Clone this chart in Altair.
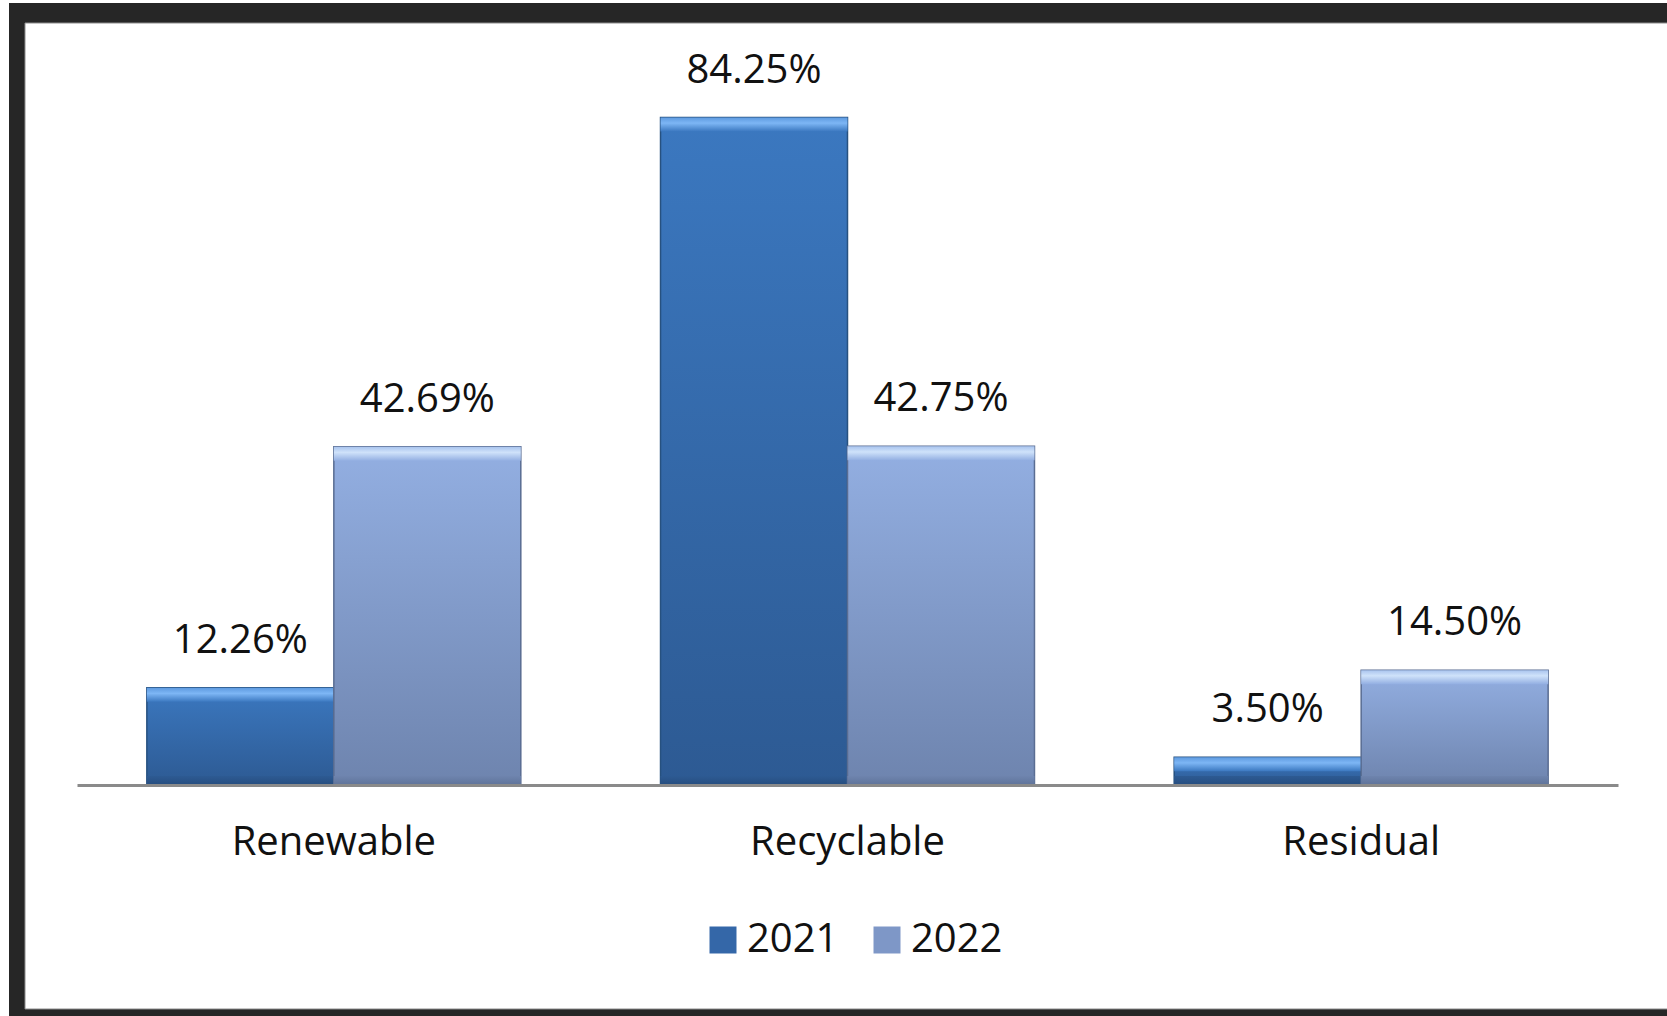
import altair as alt
import pandas as pd

categories = ["Renewable", "Recyclable", "Residual"]
years = ["2021", "2022"]
values_2021 = [12.26, 84.25, 3.50]
values_2022 = [42.69, 42.75, 14.50]

rows = []
for i, c in enumerate(categories):
    rows.append({"category": c, "year": years[0], "value": values_2021[i]})
    rows.append({"category": c, "year": years[1], "value": values_2022[i]})
df = pd.DataFrame(rows)

FONT = "Open Sans"
FS = 40

x_enc = alt.X("category:N", sort=categories,
              scale=alt.Scale(paddingInner=0.272, paddingOuter=0.136),
              axis=alt.Axis(title=None, labelAngle=0, ticks=False, tickSize=0,
                            domainColor="#8a8a8a", domainWidth=3, zindex=2,
                            labelFontSize=FS, labelFont=FONT, labelColor="#111111",
                            labelLimit=400,
                            labelBaseline="middle", labelPadding=57))
xo_enc = alt.XOffset("year:N", sort=years, scale=alt.Scale(paddingInner=0, paddingOuter=0))
y_scale = alt.Scale(domain=[0, 90])
y_enc = alt.Y("value:Q", scale=y_scale, axis=None)

base = alt.Chart(df)

frame_outer = alt.Chart(alt.Data(values=[{"a": 1}])).mark_rect(color="#262626").encode(
    x=alt.value(-68), x2=alt.value(1600), y=alt.value(-69), y2=alt.value(960))
frame_inner = alt.Chart(alt.Data(values=[{"a": 1}])).mark_rect(
    color="white", stroke="#8c8c8c", strokeWidth=1).encode(
    x=alt.value(-52), x2=alt.value(1600), y=alt.value(-49), y2=alt.value(937))

legend_bars = base.mark_bar().encode(
    x=x_enc, xOffset=xo_enc, y=y_enc,
    color=alt.Color("year:N", sort=years,
                    scale=alt.Scale(domain=years, range=["#3467A8", "#7E97C7"]),
                    legend=alt.Legend(title=None, orient="none", legendX=626, legendY=848,
                                      direction="horizontal", symbolType="square",
                                      symbolSize=729, symbolStrokeWidth=0, zindex=2,
                                      labelFontSize=FS, labelFont=FONT, labelColor="#111111",
                                      labelOffset=4, columnPadding=28)))

grad_2021 = alt.Gradient(gradient="linear", x1=0, y1=0, x2=0, y2=1,
                         stops=[alt.GradientStop(color="#3B78C0", offset=0),
                                alt.GradientStop(color="#2D5A93", offset=1)])
grad_2022 = alt.Gradient(gradient="linear", x1=0, y1=0, x2=0, y2=1,
                         stops=[alt.GradientStop(color="#93AFE2", offset=0),
                                alt.GradientStop(color="#6E84AE", offset=1)])
hi_2021 = alt.Gradient(gradient="linear", x1=0, y1=0, x2=0, y2=1,
                       stops=[alt.GradientStop(color="#5F9BE0", offset=0),
                              alt.GradientStop(color="#7DB6F5", offset=0.4),
                              alt.GradientStop(color="#3B78C0", offset=1)])
hi_2022 = alt.Gradient(gradient="linear", x1=0, y1=0, x2=0, y2=1,
                       stops=[alt.GradientStop(color="#A9C4EE", offset=0),
                              alt.GradientStop(color="#CFE2FA", offset=0.4),
                              alt.GradientStop(color="#93AFE2", offset=1)])
lo_2021 = alt.Gradient(gradient="linear", x1=0, y1=0, x2=0, y2=1,
                       stops=[alt.GradientStop(color="#2D5A93", offset=0),
                              alt.GradientStop(color="#264D7E", offset=1)])
lo_2022 = alt.Gradient(gradient="linear", x1=0, y1=0, x2=0, y2=1,
                       stops=[alt.GradientStop(color="#6E84AE", offset=0),
                              alt.GradientStop(color="#5F7399", offset=1)])

def year_bars(yr, grad, hi, lo, edge):
    b = base.transform_filter(alt.datum.year == yr).transform_calculate(zero="0")
    body = b.mark_bar(color=grad, stroke=edge, strokeWidth=1.5).encode(
        x=x_enc, xOffset=xo_enc, y=y_enc, y2=alt.Y2("zero:Q"))
    bottom = b.mark_bar(color=lo, yOffset=-9, xOffset=1.5, x2Offset=-1.5).encode(
        x=x_enc, xOffset=xo_enc, y=alt.Y("zero:Q", scale=y_scale, axis=None),
        y2=alt.Y2("zero:Q"))
    top = b.mark_bar(color=hi, y2Offset=14, xOffset=1.5, x2Offset=-1.5).encode(
        x=x_enc, xOffset=xo_enc, y=y_enc, y2=alt.Y2("value:Q"))
    return body + bottom + top

bars_2021 = year_bars("2021", grad_2021, hi_2021, lo_2021, "#27517F")
bars_2022 = year_bars("2022", grad_2022, hi_2022, lo_2022, "#5A6D92")

labels = base.transform_calculate(
    label="format(datum.value, '.2f') + '%'"
).mark_text(font=FONT, fontSize=FS, color="#111111", baseline="middle", dy=-47).encode(
    x=x_enc, xOffset=xo_enc, y=y_enc, text="label:N")

chart = alt.layer(frame_outer, frame_inner, legend_bars, bars_2021, bars_2022, labels).properties(
    width=1541, height=713,
    autosize=alt.AutoSizeParams(type="none"),
    padding={"left": 77, "top": 72, "right": 49, "bottom": 231},
    background="white",
).configure_view(stroke=None)

chart.save("out.html", embed_options={"renderer": "svg", "actions": False})
